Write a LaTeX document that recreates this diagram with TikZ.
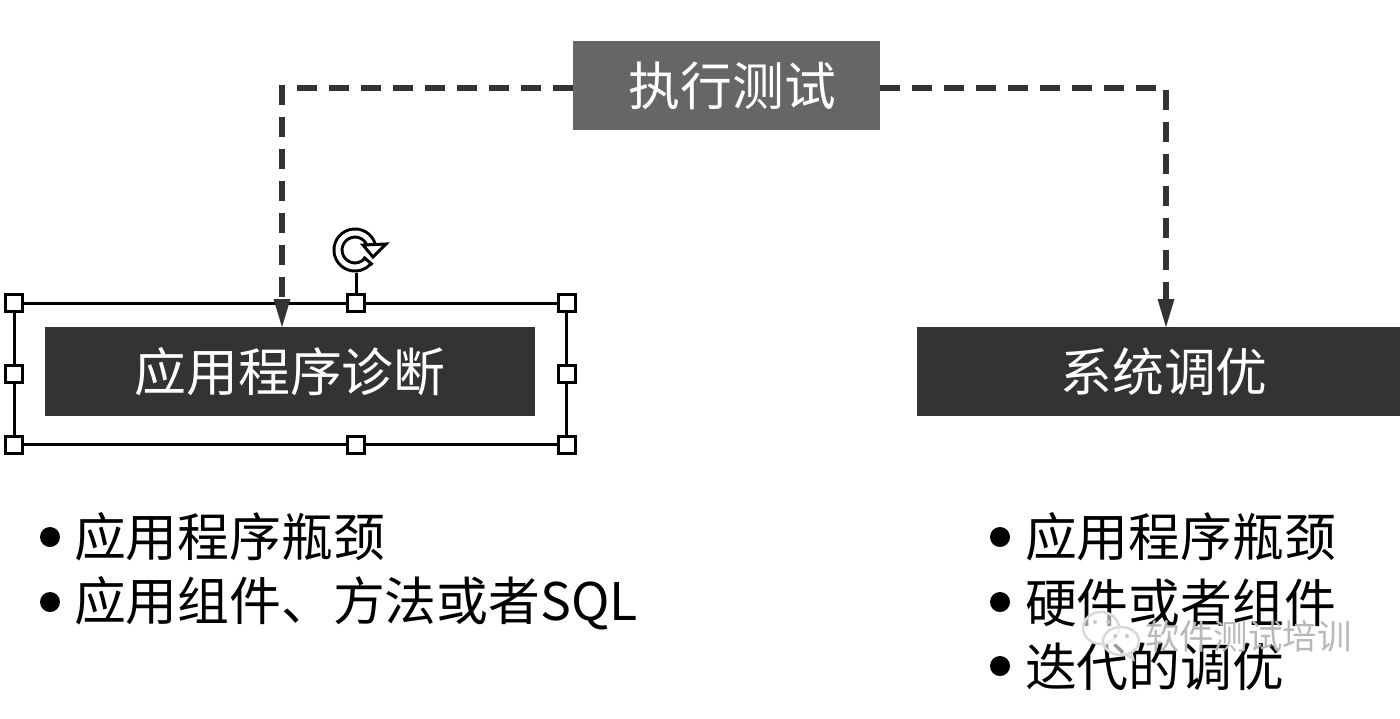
\documentclass[tikz,border=0pt]{standalone}
\usepackage{fontspec}
\setmainfont{Noto Sans CJK SC}
\usetikzlibrary{arrows.meta,positioning}

\definecolor{boxdark}{HTML}{333333}
\definecolor{boxmid}{HTML}{666666}

\begin{document}
\begin{tikzpicture}[
    x=0.02cm, y=-0.02cm,
    every node/.style={font=\fontsize{29.5}{32}\selectfont, outer sep=0pt},
    darkbox/.style={fill=boxdark, text=white, inner sep=0pt, minimum height=1.78cm},
    midbox/.style={fill=boxmid, text=white, inner sep=0pt, minimum width=6.14cm, minimum height=1.78cm},
    selframe/.style={draw=black, line width=0.06cm, inner sep=0pt, minimum width=11.06cm, minimum height=2.84cm},
    handle/.style={draw=black, fill=white, line width=0.06cm, inner sep=0pt, minimum size=0.34cm},
    flow/.style={-{Triangle[length=0.6cm, width=0.3cm]}, draw=boxdark, line width=0.115cm, dash pattern=on 0.4cm off 0.24cm, shorten >=-0.04cm},
    item/.style={inner sep=0pt, anchor=west},
    dot/.style={circle, fill=black, inner sep=0pt, minimum size=0.4cm},
    bubble/.style={draw=black!15, fill=white, fill opacity=0.6, line width=0.05cm}
]
\useasboundingbox (0,0) rectangle (1400,718);

% top box and the two boxes below it
\node[midbox] (test) at (726.5,85.5) {\hspace*{0.24cm}执行测试};
\node[selframe] (select) at (290.5,374) {};
\node[darkbox, minimum width=9.8cm] (diag) at (290,371.5) {应用程序诊断};
\node[darkbox, minimum width=9.66cm] (tune) at (1158.5,371.5) {\hspace*{0.22cm}系统调优};

% selection handles
\foreach \a in {north west,north east,west,east,south west,south east}
    \node[handle] (h-\a) at (select.\a) {};
\node[handle] (h-top) at (356,303) {};
\node[handle] (h-bottom) at (356,445) {};

% rotation handle
\coordinate (rot) at (355,250);
\coordinate (rotfoot) at (356,273);
\draw[black, line width=0.06cm] (h-top.north) -- (rotfoot);
\draw[black, line width=0.06cm, double=white, double distance=0.1cm] (rot) ++(-15:17) arc[start angle=-15, end angle=-320, radius=17];
\draw[black, line width=0.06cm] (rot) ++(-320:11) -- ++(-320:12);
\draw[black, fill=white, line width=0.06cm, line join=miter] (363,245) -- (386,244) -- (373,257) -- cycle;

% dashed connectors
\draw[flow] ([yshift=-0.05cm]test.west) -| ([xshift=-0.16cm]diag.north);
\draw[flow] ([yshift=-0.05cm]test.east) -| ([xshift=0.15cm]tune.north);

% left list
\node[dot] (l1) at (50,537) {};
\node[item] (l1t) at (74,537) {应用程序瓶颈};
\node[dot] (l2) at (50,602) {};
\node[item] (l2t) at (74,603) {应用组件、方法或者SQL};

% right list
\node[dot] (r1) at (1000,537) {};
\node[item] (r1t) at (1025,537) {应用程序瓶颈};
\node[dot] (r2) at (1000,602) {};
\node[item] (r2t) at (1025,603) {硬件或者组件};
\node[dot] (r3) at (1000,666) {};
\node[item] (r3t) at (1025,667) {迭代的调优};

% chat bubbles and caption in the lower right corner
\draw[bubble] (1101,628) ellipse[x radius=18, y radius=16];
\draw[bubble] (1121,641) ellipse[x radius=18, y radius=14];
\draw[black!15, line width=0.05cm] (1125,654) -- (1133,659) -- (1131,651);
\foreach \x/\y in {1095/622,1108/622,1115/636,1127/636}
    \fill[black!22] (\x,\y) circle[radius=2];
\node[anchor=west, inner sep=0pt, text=black!28, font=\fontsize{19.6}{22}\selectfont] (marktext) at (1145,636) {软件测试培训};
\end{tikzpicture}
\end{document}
